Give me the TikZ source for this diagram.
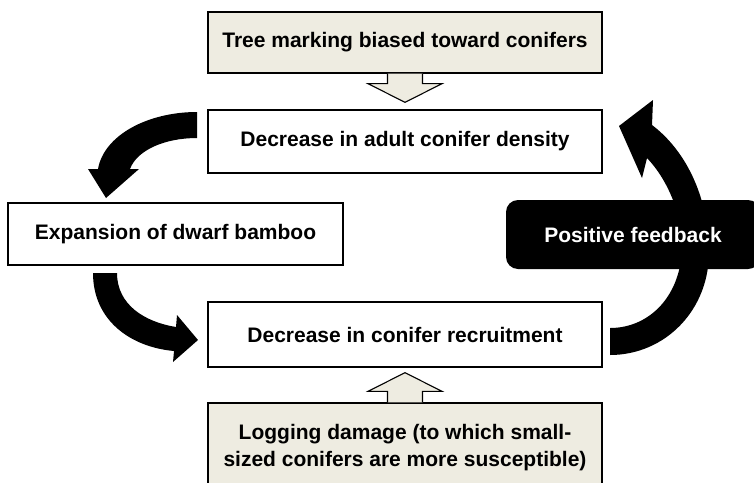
\documentclass[tikz,border=0pt]{standalone}
\usepackage{fontspec}
\setmainfont{Liberation Sans}
\usepackage{xcolor}
\usetikzlibrary{calc}

\definecolor{tan}{HTML}{EEECE1}

\tikzset{
  stepbox/.style={draw=black, line width=1.3pt, fill=white, align=center,
    font=\fontsize{21}{26}\selectfont\bfseries, inner sep=0pt},
  driverbox/.style={stepbox, fill=tan},
  hollowarrow/.style={draw=black, line width=1.1pt, fill=tan, line join=miter},
  bentarrow/.style={fill=black}
}

\begin{document}
\begin{tikzpicture}[x=1pt,y=-1pt]
    \useasboundingbox (0,0) rectangle (754,482);

    % Boxes of the loop
    \node[driverbox, minimum width=394, minimum height=61] (marking) at (405,42.5) {\raisebox{4.5pt}{Tree marking biased toward conifers}};
    \node[stepbox, minimum width=394, minimum height=63] (adult) at (405,141.5) {Decrease in adult conifer density};
    \node[stepbox, minimum width=335, minimum height=62] (bamboo) at (175.5,234) {Expansion of dwarf bamboo};
    \node[stepbox, minimum width=394, minimum height=65] (recruit) at (405,334.5) {Decrease in conifer recruitment};
    \node[driverbox, minimum width=394, minimum height=89] (logging) at (405,447.5)
      {\raisebox{2.5pt}{\begin{tabular}{@{}c@{}}Logging damage (to which small-\\[1pt]sized conifers are more susceptible)\end{tabular}}};

    % Outside drivers
    \draw[hollowarrow] ($(marking.south)+(-17.5,0)$) -- ++(0,10) -- ++(-19.5,0)
      -- ($(adult.north)+(0,-7)$) -- ($(marking.south)+(37,10)$) -- ++(-19.5,0) -- ++(0,-10);
    \draw[hollowarrow] ($(logging.north)+(-17.5,0)$) -- ++(0,-11) -- ++(-19.5,0)
      -- ($(recruit.south)+(0,5)$) -- ($(logging.north)+(37,-11)$) -- ++(-19.5,0) -- ++(0,11);

    % Curved arrows of the loop
    \fill[bentarrow] (197,112) .. controls (148,112) and (104,135) .. (98,169) -- (88,169) -- (106,198)
      -- (139,169) -- (130,169) .. controls (137,150) and (165,138) .. (197,138) -- cycle;
    \fill[bentarrow] (93,273) .. controls (93,320) and (130,347) .. (174,351) -- (173,362) -- (198,340)
      -- (177,315) -- (176,327) .. controls (145,322) and (117,305) .. (117,273) -- cycle;
    \fill[bentarrow] (610,355) .. controls (665,355) and (710,310) .. (709,250)
      .. controls (708,195) and (685,150) .. (652,125) -- (653,100) -- (619,126) -- (642,178) -- (647,158)
      .. controls (668,180) and (682,215) .. (682,245) .. controls (682,295) and (650,328) .. (610,328) -- cycle;

    \node[fill=black, rounded corners=12pt, minimum width=254, minimum height=69, text=white,
      font=\fontsize{21}{26}\selectfont\bfseries] (feedback) at (633,234.5) {Positive feedback};
\end{tikzpicture}
\end{document}
